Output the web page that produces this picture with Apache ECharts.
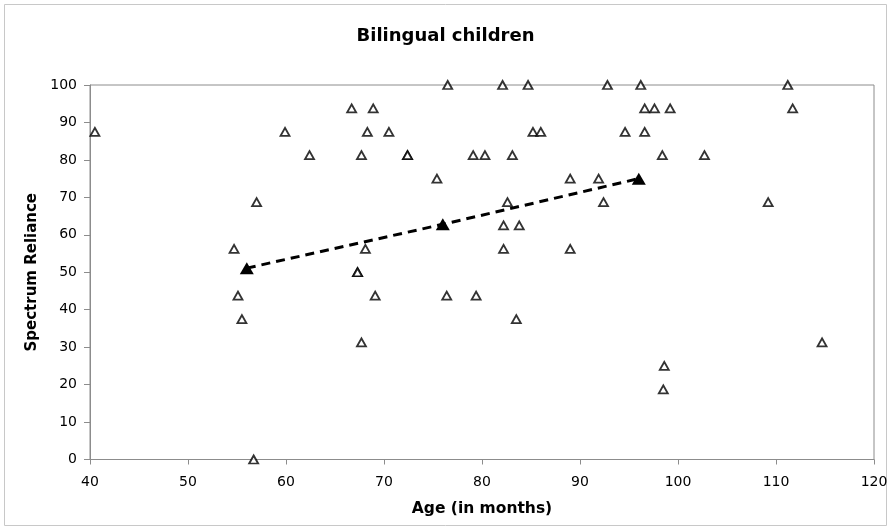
<!DOCTYPE html>
<html>
<head>
<meta charset="utf-8">
<script src="https://cdn.jsdelivr.net/npm/echarts@6/dist/echarts.min.js"></script>
<style>
  html, body { margin: 0; padding: 0; background: #fff; }
  #chart { width: 891px; height: 530px; }
</style>
</head>
<body>
<div id="chart"></div>
<script>
// Individual children: age in months and spectrum reliance score
const ages = [
  40.5, 54.7, 55.1, 55.5, 56.7, 57.0, 59.9, 62.4, 66.7, 67.7,
  68.3, 68.9, 70.5, 72.4, 72.4, 67.3, 67.3, 68.1, 69.1, 67.7,
  75.4, 76.5, 76.4, 79.1, 80.3, 79.4, 82.1, 82.2, 82.2, 82.6,
  83.1, 83.5, 83.8, 84.7, 85.2, 86.0, 89.0, 89.0, 91.9, 92.4,
  92.8, 94.6, 96.2, 96.6, 97.6, 99.2, 96.6, 98.4, 98.6, 98.5,
  102.7, 109.2, 111.2, 111.7, 114.7
];
const reliance = [
  87.5, 56.25, 43.75, 37.5, 0, 68.75, 87.5, 81.25, 93.75, 81.25,
  87.5, 93.75, 87.5, 81.25, 81.25, 50, 50, 56.25, 43.75, 31.25,
  75, 100, 43.75, 81.25, 81.25, 43.75, 100, 62.5, 56.25, 68.75,
  81.25, 37.5, 62.5, 100, 87.5, 87.5, 75, 56.25, 75, 68.75,
  100, 87.5, 100, 93.75, 93.75, 93.75, 87.5, 81.25, 25, 18.75,
  81.25, 68.75, 100, 93.75, 31.25
];

// Group means
const meanAges = [56, 76, 96];
const meanReliance = [51.1, 62.8, 75.0];

const xTicks = { min: 40, max: 120, step: 10 };
const yTicks = { min: 0, max: 100, step: 10 };

const points = ages.map((a, i) => [a, reliance[i]]);
const means = meanAges.map((a, i) => [a, meanReliance[i]]);

const font = 'DejaVu Sans, Verdana, sans-serif';
const chart = echarts.init(document.getElementById('chart'), null, { renderer: 'canvas' });

chart.setOption({
  animation: false,
  backgroundColor: '#fff',
  title: {
    text: 'Bilingual children',
    left: 'center',
    top: 22,
    textStyle: { fontFamily: font, fontSize: 18, fontWeight: 'bold', color: '#000' }
  },
  graphic: [{
    type: 'rect',
    shape: { x: 4.5, y: 4.5, width: 882, height: 521 },
    style: { fill: 'none', stroke: '#c8c8c8', lineWidth: 1 },
    silent: true
  }],
  grid: {
    left: 90, top: 85, width: 784, height: 374.5,
    show: true, borderColor: '#8c8c8c', borderWidth: 1, backgroundColor: 'transparent'
  },
  xAxis: {
    type: 'value',
    min: xTicks.min, max: xTicks.max, interval: xTicks.step,
    name: 'Age (in months)',
    nameLocation: 'middle',
    nameGap: 41,
    nameTextStyle: { fontFamily: font, fontSize: 15.5, fontWeight: 'bold', color: '#000' },
    axisLine: { show: true, lineStyle: { color: '#8c8c8c', width: 1 } },
    axisTick: { show: true, length: 5, lineStyle: { color: '#8c8c8c' } },
    axisLabel: { fontFamily: font, fontSize: 14, color: '#000', margin: 16 },
    splitLine: { show: false }
  },
  yAxis: {
    type: 'value',
    min: yTicks.min, max: yTicks.max, interval: yTicks.step,
    name: 'Spectrum Reliance',
    nameLocation: 'middle',
    nameGap: 49,
    nameTextStyle: { fontFamily: font, fontSize: 15, fontWeight: 'bold', color: '#000' },
    axisLine: { show: true, lineStyle: { color: '#8c8c8c', width: 1 } },
    axisTick: { show: true, length: 6, lineStyle: { color: '#8c8c8c' } },
    axisLabel: { fontFamily: font, fontSize: 14, color: '#000', margin: 13 },
    splitLine: { show: false }
  },
  series: [
    {
      type: 'scatter',
      data: points,
      symbol: 'triangle',
      symbolSize: [9, 8],
      itemStyle: { color: '#fff', borderColor: '#000', borderWidth: 1.8 },
      z: 3
    },
    {
      type: 'line',
      data: means,
      symbol: 'triangle',
      symbolSize: [14, 12],
      showSymbol: true,
      lineStyle: { color: '#000', width: 3, type: [9, 6] },
      itemStyle: { color: '#000', borderColor: '#000', borderWidth: 0 },
      z: 4
    }
  ]
});
</script>
</body>
</html>
